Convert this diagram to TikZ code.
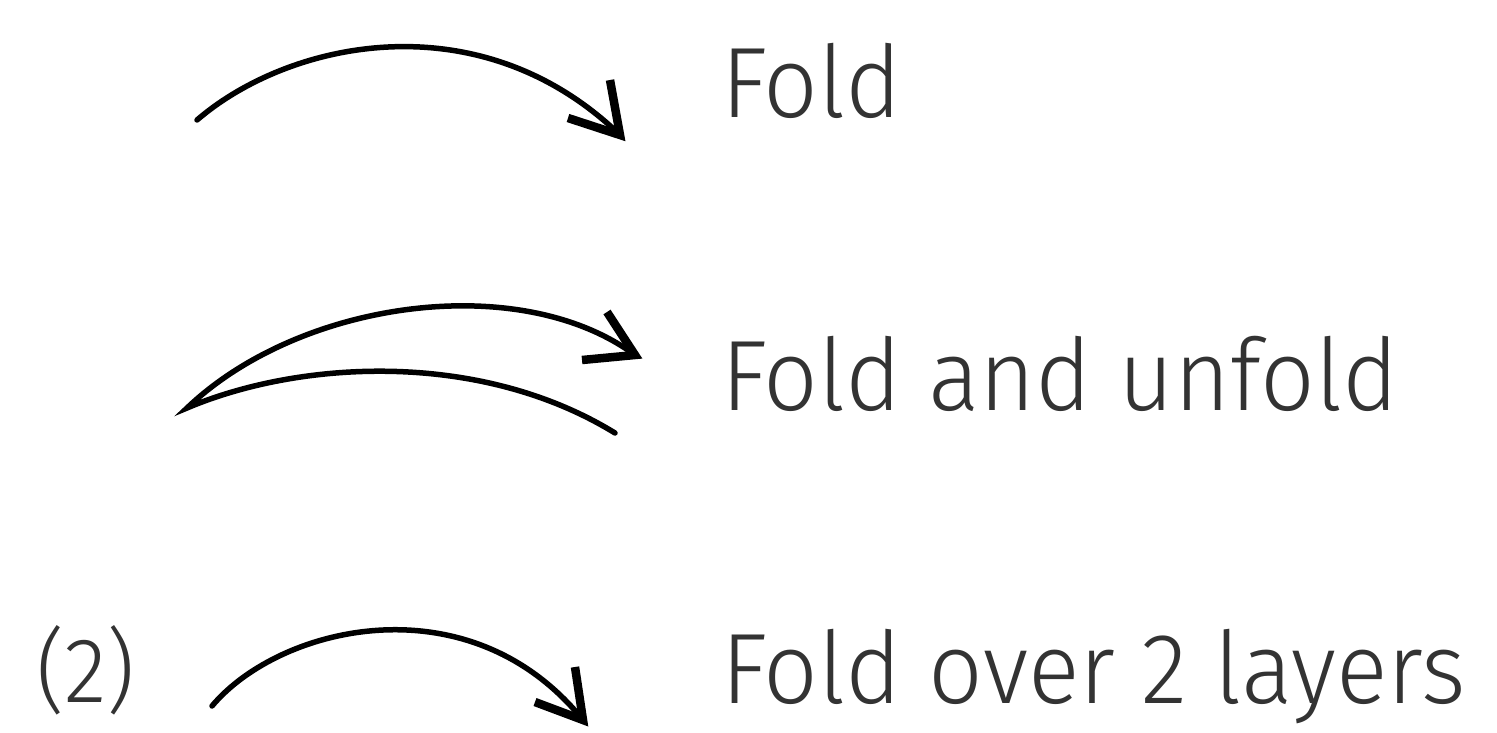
\documentclass[tikz,border=0pt]{standalone}
\usepackage{fontspec}
\newfontfamily\dinfont{Fira Sans}[UprightFont=* Light]
\newcommand\lbltext[1]{\scalebox{0.96}[1]{\fontsize{100}{100}\dinfont #1}}
\tikzset{
  curve/.style={line width=5.5pt, line cap=round},
  headarm/.style={line width=8.5pt, line cap=butt, line join=miter},
  lbl/.style={anchor=base west, inner sep=0pt, outer sep=0pt, text=black!80}
}
\begin{document}
\begin{tikzpicture}[x=1pt,y=-1pt]
\useasboundingbox[fill=white] (0,0) rectangle (1497,732);
% arrow 1: Fold
\coordinate (a1s) at (197,120);
\coordinate (a1t) at (620,135);
\coordinate (a1l) at (610,80);
\coordinate (a1r) at (568,118);
\draw[curve] (a1s) .. controls (290,40) and (480,0) .. (a1t);
\draw[headarm] (a1l) -- (a1t) -- (a1r);
% arrow 2: Fold and unfold
\coordinate (a2s) at (187,408);
\coordinate (a2t) at (635,355);
\coordinate (a2l) at (607,312);
\coordinate (a2r) at (582,360);
\coordinate (a2e) at (615,433);
\draw[curve, line join=miter] (a2t) .. controls (520,270) and (300,300) .. (a2s)
   .. controls (300,360) and (480,350) .. (a2e);
\draw[headarm] (a2l) -- (a2t) -- (a2r);
% arrow 3: Fold over 2 layers
\coordinate (a3s) at (212,706);
\coordinate (a3t) at (583,720);
\coordinate (a3l) at (575,667);
\coordinate (a3r) at (535,702);
\draw[curve] (a3s) .. controls (280,625) and (470,580) .. (a3t);
\draw[headarm] (a3l) -- (a3t) -- (a3r);
% labels
\node[lbl] (t1) at (721,117) {\lbltext{Fold}};
\node[lbl] (t2) at (721,410) {\lbltext{Fold and unfold}};
\node[lbl] (t3) at (721,703) {\lbltext{Fold over 2 layers}};
\node[lbl] (n2) at (36,702) {\scalebox{0.96}[1]{\fontsize{92}{92}\dinfont (2)}};
\end{tikzpicture}
\end{document}
